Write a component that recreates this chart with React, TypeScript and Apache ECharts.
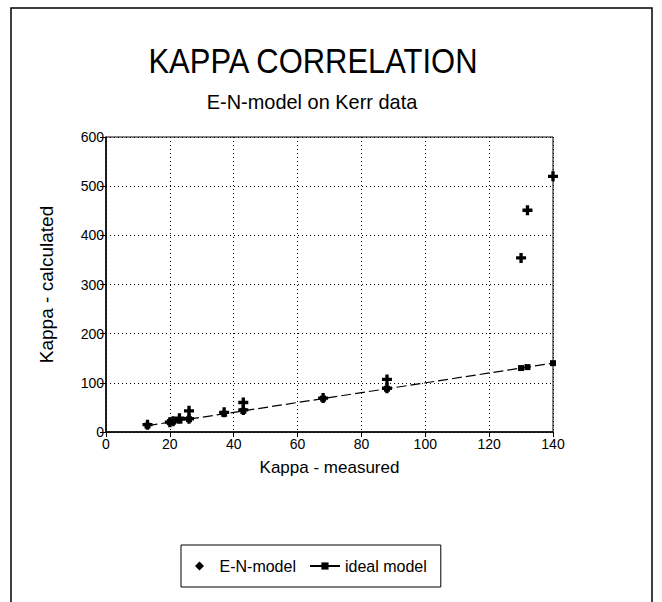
import React, { useEffect, useRef } from "react";
import * as echarts from "echarts";

const measured = [13, 20, 21, 23, 26, 26, 37, 43, 43, 68, 88, 88, 130, 132, 140];
const enModel = [15, 20, 22, 28, 43, 27, 40, 60, 45, 69, 107, 89, 354, 451, 520];
const idealX = [13, 20, 21, 23, 26, 37, 43, 68, 88, 130, 132, 140];
const idealY = [13, 20, 21, 23, 26, 37, 43, 68, 88, 130, 132, 140];
const xTicks = [0, 20, 40, 60, 80, 100, 120, 140];
const yTicks = [0, 100, 200, 300, 400, 500, 600];

const FONT = "'Liberation Sans Narrow', 'Arial Narrow', 'Liberation Sans', Arial, sans-serif";
const PLUS = "path://M3,0H6V3H9V6H6V9H3V6H0V3H3Z";
const DIAMOND = "path://M5,0L10,5L5,10L0,5Z";

export default function App() {
  const ref = useRef<HTMLDivElement>(null);
  useEffect(() => {
    if (!ref.current) return;
    const chart = echarts.init(ref.current, undefined, { renderer: "svg" });
    const enData = measured.map((m, i) => [m, enModel[i]]);
    const idealData = idealX.map((m, i) => [m, idealY[i]]);
    chart.setOption({
      animation: false,
      backgroundColor: "#fff",
      textStyle: { fontFamily: FONT, color: "#000" },
      graphic: [
        {
          type: "rect",
          shape: { x: 11, y: 8, width: 641, height: 640 },
          style: { fill: "none", stroke: "#000", lineWidth: 1.5 },
          silent: true,
        },
        {
          type: "text",
          x: 313,
          y: 61,
          scaleX: 0.86,
          style: {
            text: "KAPPA CORRELATION",
            font: `36px ${FONT}`,
            fill: "#000",
            align: "center",
            verticalAlign: "middle",
          },
        },
        {
          type: "text",
          x: 312,
          y: 101,
          scaleX: 0.95,
          style: {
            text: "E-N-model on Kerr data",
            font: `21px ${FONT}`,
            fill: "#000",
            align: "center",
            verticalAlign: "middle",
          },
        },
      ],
      grid: {
        left: 106,
        top: 137,
        width: 447,
        height: 295,
        show: true,
        borderColor: "#000",
        borderWidth: 1,
        backgroundColor: "transparent",
      },
      legend: {
        left: 181,
        top: 545,
        orient: "horizontal",
        padding: [13, 14, 13, 14],
        borderColor: "#000",
        borderWidth: 1,
        itemGap: 13,
        itemWidth: 30,
        itemHeight: 9,
        symbolKeepAspect: true,
        textStyle: { fontFamily: FONT, fontSize: 16, color: "#000" },
        data: [
          { name: "E-N-model", icon: DIAMOND, itemStyle: { color: "#000", opacity: 1 } },
          { name: "ideal model", lineStyle: { type: "solid", color: "#000" } },
        ],
      },
      xAxis: {
        type: "value",
        min: 0,
        max: 140,
        interval: 20,
        name: "Kappa - measured",
        nameLocation: "middle",
        nameGap: 27,
        nameTextStyle: { fontFamily: FONT, fontSize: 17, color: "#000" },
        axisLine: { lineStyle: { color: "#000", width: 1.5 } },
        axisTick: { show: true, length: 5, lineStyle: { color: "#000" } },
        axisLabel: {
          fontFamily: FONT,
          fontSize: 14,
          color: "#000",
          margin: 5,
          formatter: (v: number) => (xTicks.includes(v) ? String(v) : ""),
        },
        splitLine: { show: true, lineStyle: { color: "#000", type: [1, 3], width: 1 } },
      },
      yAxis: {
        type: "value",
        min: 0,
        max: 600,
        interval: 100,
        name: "Kappa - calculated",
        nameLocation: "middle",
        nameGap: 50,
        nameTextStyle: { fontFamily: FONT, fontSize: 19, color: "#000" },
        axisLine: { show: true, lineStyle: { color: "#000", width: 1.5 } },
        axisTick: { show: true, length: 6, lineStyle: { color: "#000" } },
        axisLabel: {
          fontFamily: FONT,
          fontSize: 14,
          color: "#000",
          margin: 2,
          formatter: (v: number) => (yTicks.includes(v) ? String(v) : ""),
        },
        splitLine: { show: true, lineStyle: { color: "#000", type: [1, 3], width: 1 } },
      },
      series: [
        {
          name: "E-N-model",
          type: "scatter",
          data: enData,
          symbol: PLUS,
          symbolSize: 10,
          itemStyle: { color: "#000", opacity: 1 },
          z: 3,
        },
        {
          name: "ideal model",
          type: "line",
          data: idealData,
          symbol: "rect",
          symbolSize: 6,
          showAllSymbol: true,
          itemStyle: { color: "#000" },
          lineStyle: { color: "#000", width: 1.2, type: [10, 4] },
          z: 2,
        },
      ],
    });
    return () => chart.dispose();
  }, []);
  return (
    <div
      ref={ref}
      style={{ position: "absolute", left: 0, top: 0, width: 662, height: 602 }}
    />
  );
}
